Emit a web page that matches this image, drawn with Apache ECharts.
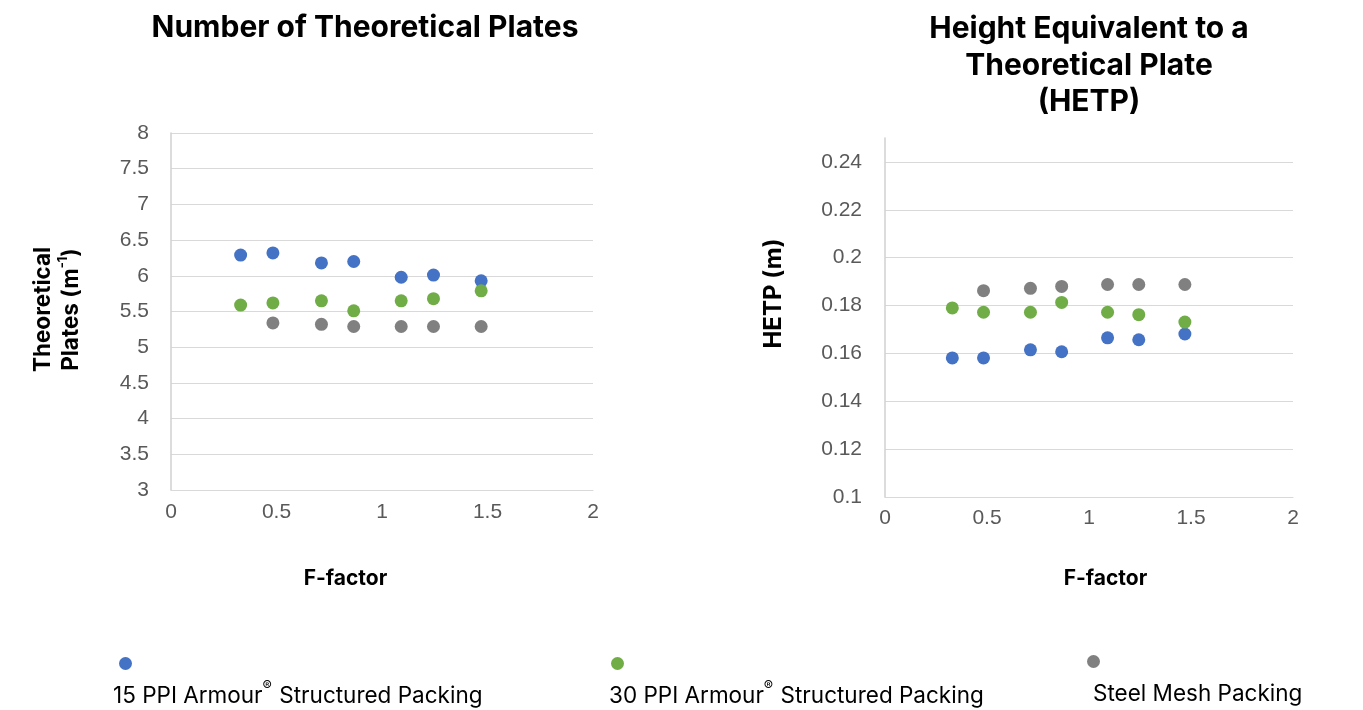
<!DOCTYPE html>
<html>
<head>
<meta charset="utf-8">
<script src="https://cdn.jsdelivr.net/npm/echarts@6/dist/echarts.min.js"></script>
<style>
html,body{margin:0;padding:0;background:#fff;}
#chart{width:1363px;height:710px;}
</style>
</head>
<body>
<div id="chart"></div>
<script>
// ---- Data ----
const seriesNames = ['15 PPI Armour\u00AE Structured Packing', '30 PPI Armour\u00AE Structured Packing', 'Steel Mesh Packing'];
const fFactor = [0.33, 0.483, 0.713, 0.866, 1.091, 1.244, 1.47];
const plates15 = [6.29, 6.32, 6.18, 6.20, 5.98, 6.01, 5.93];
const plates30 = [5.59, 5.62, 5.65, 5.51, 5.65, 5.68, 5.79];
const platesSteel = [null, 5.34, 5.32, 5.29, 5.29, 5.29, 5.29];
const hetp15 = [0.1581, 0.1581, 0.1615, 0.1607, 0.1665, 0.1657, 0.1681];
const hetp30 = [0.1790, 0.1772, 0.1772, 0.1813, 0.1772, 0.1762, 0.1731];
const hetpSteel = [null, 0.1862, 0.1872, 0.1880, 0.1888, 0.1888, 0.1888];
const colors = ['#4472C4', '#70AD47', '#808080'];

function pairs(xs, ys) {
  const out = [];
  for (let i = 0; i < xs.length; i++) if (ys[i] != null) out.push([xs[i], ys[i]]);
  return out;
}

const chart = echarts.init(document.getElementById('chart'), null, {renderer: 'canvas'});
const labelFont = {fontFamily: 'Liberation Sans', fontSize: 21, color: '#595959'};
const nameFont = {fontFamily: 'Inter', fontSize: 21, fontWeight: 'bold', color: '#000'};
const gridLine = {lineStyle: {color: '#d9d9d9', width: 1}};

function makeLegend(idx, left, top, dotPad, textPad) {
  return {
    data: [seriesNames[idx]],
    left: left, top: top, padding: 0,
    icon: 'none', itemWidth: 0, itemHeight: 0,
    selectedMode: true,
    formatter: function (name) {
      const body = name.split('\u00AE').map(function (p) { return '{t|' + p + '}'; }).join('{r|\u00AE}');
      return '{s1|}{d|}\n{s2|}' + body;
    },
    textStyle: {
      fontFamily: 'Inter', fontSize: 22.5, color: '#000',
      rich: {
        s1: {width: dotPad, height: 1, lineHeight: 33},
        s2: {width: textPad, height: 1, lineHeight: 33},
        d: {width: 13, height: 13, borderRadius: 6.5, backgroundColor: colors[idx], lineHeight: 33},
        t: {fontFamily: 'Inter', fontSize: 22.5, color: '#000', lineHeight: 33},
        r: {fontFamily: 'Inter', fontSize: 14, color: '#000', lineHeight: 33, verticalAlign: 'top', padding: [0, 1, 8, 0]}
      }
    }
  };
}

const option = {
  backgroundColor: '#fff',
  animation: false,
  color: colors,
  title: [
    {text: 'Number of Theoretical Plates', left: 360, top: 8, textAlign: 'center',
     textStyle: {fontFamily: 'Inter', fontSize: 30, fontWeight: 'bold', color: '#000'}},
    {text: 'Height Equivalent to a\nTheoretical Plate\n(HETP)', left: 1084, top: 6, textAlign: 'center',
     textStyle: {fontFamily: 'Inter', fontSize: 30, fontWeight: 'bold', color: '#000', lineHeight: 36.5}}
  ],
  legend: [
    makeLegend(0, 108, 652, 6, 0),
    makeLegend(1, 604, 652, 2, 0),
    makeLegend(2, 1082, 650, 0, 6)
  ],
  grid: [
    {left: 171, top: 133, width: 422, height: 357},
    {left: 885, top: 138, width: 408, height: 359}
  ],
  xAxis: [
    {gridIndex: 0, type: 'value', min: 0, max: 2, interval: 0.5,
     name: 'F-factor', nameLocation: 'middle', nameGap: 78,
     nameTextStyle: Object.assign({}, nameFont, {padding: [0, 73, 0, 0]}),
     axisLine: {show: true, lineStyle: {color: '#d9d9d9', width: 1}},
     axisTick: {show: false}, splitLine: {show: false},
     axisLabel: Object.assign({margin: 12}, labelFont)},
    {gridIndex: 1, type: 'value', min: 0, max: 2, interval: 0.5,
     name: 'F-factor', nameLocation: 'middle', nameGap: 71,
     nameTextStyle: Object.assign({}, nameFont, {padding: [0, 0, 0, 33]}),
     axisLine: {show: true, lineStyle: {color: '#d9d9d9', width: 1}},
     axisTick: {show: false}, splitLine: {show: false},
     axisLabel: Object.assign({margin: 11}, labelFont)}
  ],
  yAxis: [
    {gridIndex: 0, type: 'value', min: 3, max: 8, interval: 0.5,
     name: 'Theoretical\nPlates (m{sup|-1})', nameLocation: 'middle', nameGap: 86, nameRotate: 90,
     nameTextStyle: Object.assign({}, nameFont, {fontSize: 22.5, lineHeight: 28, padding: [0, 0, 0, 4],
       rich: {sup: {fontFamily: 'Inter', fontSize: 13, fontWeight: 'bold', color: '#000', verticalAlign: 'top', lineHeight: 28, padding: [0, 0, 10, 0]}}}),
     axisLine: {show: true, lineStyle: {color: '#d0d0d0', width: 1.5}},
     axisTick: {show: false}, splitLine: gridLine,
     axisLabel: Object.assign({margin: 22}, labelFont)},
    {gridIndex: 1, type: 'value', min: 0.1, max: 0.25, interval: 0.02,
     name: 'HETP (m)', nameLocation: 'middle', nameGap: 99, nameRotate: 90,
     nameTextStyle: Object.assign({}, nameFont, {fontSize: 24, padding: [0, 0, 0, 48]}),
     axisLine: {show: true, lineStyle: {color: '#d0d0d0', width: 1.5}},
     axisTick: {show: false},
     splitLine: Object.assign({showMaxLine: false}, gridLine),
     axisLabel: Object.assign({margin: 23, showMaxLabel: false,
       formatter: function (v) { return Math.abs(v - 0.25) < 1e-9 ? '' : String(+v.toFixed(2)); }}, labelFont)}
  ],
  series: [
    {name: seriesNames[0], type: 'scatter', xAxisIndex: 0, yAxisIndex: 0, symbolSize: 13, data: pairs(fFactor, plates15), itemStyle: {color: colors[0], opacity: 1}},
    {name: seriesNames[1], type: 'scatter', xAxisIndex: 0, yAxisIndex: 0, symbolSize: 13, data: pairs(fFactor, plates30), itemStyle: {color: colors[1], opacity: 1}},
    {name: seriesNames[2], type: 'scatter', xAxisIndex: 0, yAxisIndex: 0, symbolSize: 13, data: pairs(fFactor, platesSteel), itemStyle: {color: colors[2], opacity: 1}},
    {name: seriesNames[0], type: 'scatter', xAxisIndex: 1, yAxisIndex: 1, symbolSize: 13, data: pairs(fFactor, hetp15), itemStyle: {color: colors[0], opacity: 1}},
    {name: seriesNames[1], type: 'scatter', xAxisIndex: 1, yAxisIndex: 1, symbolSize: 13, data: pairs(fFactor, hetp30), itemStyle: {color: colors[1], opacity: 1}},
    {name: seriesNames[2], type: 'scatter', xAxisIndex: 1, yAxisIndex: 1, symbolSize: 13, data: pairs(fFactor, hetpSteel), itemStyle: {color: colors[2], opacity: 1}}
  ]
};
chart.setOption(option);
</script>
</body>
</html>
